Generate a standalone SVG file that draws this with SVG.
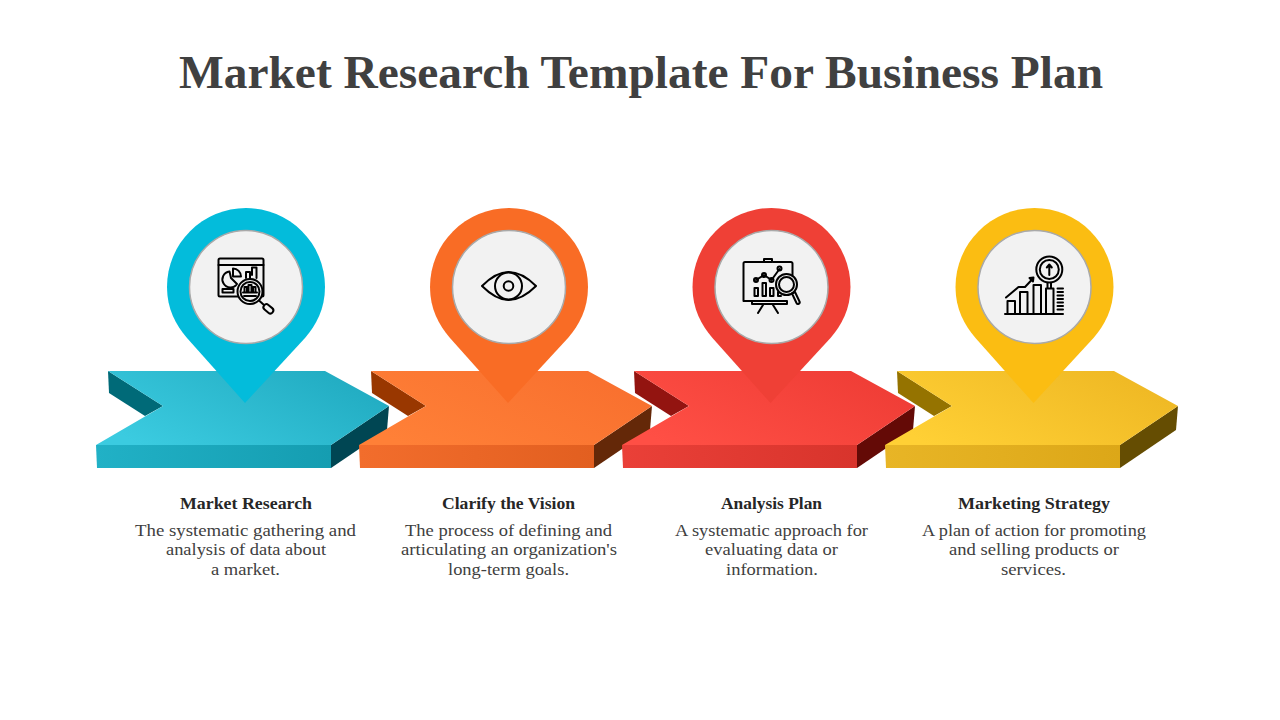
<svg xmlns="http://www.w3.org/2000/svg" xmlns:xlink="http://www.w3.org/1999/xlink" width="1280" height="720" viewBox="0 0 1280 720">
<style>
.t{font-family:"Liberation Serif","DejaVu Serif",serif;text-anchor:middle}
.title{font-size:47px;font-weight:700;fill:#404040}
.h{font-size:17.5px;font-weight:700;fill:#262626}
.b{font-size:17.5px;fill:#404040}
.disc{fill:#f2f2f2;stroke:#a9a9a9;stroke-width:1.5}
.ic{fill:none;stroke:#000;stroke-width:2;stroke-linecap:round;stroke-linejoin:round}
.icw{fill:#f2f2f2;stroke:#000;stroke-width:2;stroke-linejoin:round}
</style>
<defs>
<linearGradient id="gB" x1="0" y1="0.7" x2="1" y2="0.2"><stop offset="0" stop-color="#3bcbe0"/><stop offset="1" stop-color="#20aac0"/></linearGradient>
<linearGradient id="gO" x1="0" y1="0.7" x2="1" y2="0.2"><stop offset="0" stop-color="#ff8037"/><stop offset="1" stop-color="#f86f2e"/></linearGradient>
<linearGradient id="gR" x1="0" y1="0.7" x2="1" y2="0.2"><stop offset="0" stop-color="#ff4f45"/><stop offset="1" stop-color="#ee3c35"/></linearGradient>
<linearGradient id="gY" x1="0" y1="0.7" x2="1" y2="0.2"><stop offset="0" stop-color="#ffd035"/><stop offset="1" stop-color="#eeb723"/></linearGradient>
<linearGradient id="fB" x1="0" y1="0" x2="1" y2="0"><stop offset="0" stop-color="#21b1c6"/><stop offset="1" stop-color="#159db1"/></linearGradient>
<linearGradient id="fO" x1="0" y1="0" x2="1" y2="0"><stop offset="0" stop-color="#f26d2c"/><stop offset="1" stop-color="#e25f20"/></linearGradient>
<linearGradient id="fR" x1="0" y1="0" x2="1" y2="0"><stop offset="0" stop-color="#ea4038"/><stop offset="1" stop-color="#d8342c"/></linearGradient>
<linearGradient id="fY" x1="0" y1="0" x2="1" y2="0"><stop offset="0" stop-color="#e8b526"/><stop offset="1" stop-color="#dca718"/></linearGradient>
<path id="top" d="M108 371H325L389 406L331 445H96L163 406Z"/>
<path id="front" d="M96 445H331V468H97Z"/>
<path id="right" d="M331 445L389 406L387 430L331 468Z"/>
<path id="back" d="M108 371L163 406L145 416L109 393Z"/>
<path id="pin" d="M246 208A79 79 0 0 1 325 287C325 309 316 325 305 338L245 403L187 338C176 325 167 309 167 287A79 79 0 0 1 246 208Z"/>
</defs>
<rect width="1280" height="720" fill="#fff"/>
<text class="t title" x="641" y="88" textLength="924" lengthAdjust="spacingAndGlyphs">Market Research Template For Business Plan</text>

<g id="node-1">
<use xlink:href="#back" fill="#006a78"/><use xlink:href="#front" fill="url(#fB)"/><use xlink:href="#right" fill="#004653"/><use xlink:href="#top" fill="url(#gB)"/>
<use xlink:href="#pin" fill="#03bcdb"/>
<circle class="disc" cx="246" cy="287" r="56.5"/>
<g>
<rect class="ic" x="218.500" y="258.500" width="45" height="38" rx="1.500"/>
<path class="ic" d="M218.500 265H263.500"/>
<path class="ic" d="M233 268.500A8 8 0 0 1 241 276.500H233ZM229.500 271.500A8 8 0 1 0 237 284L231 278Z"/>
<rect class="ic" x="222.500" y="289" width="11" height="3.500"/>
<path class="ic" d="M246 278V272H250V278M252 275V267.500H256.500V278"/>
<circle class="icw" cx="250" cy="291.500" r="12.500"/>
<circle class="ic" cx="250" cy="291.500" r="9.500"/>
<path class="ic" d="M244.500 292V287H247V292M248.500 292V285H251.500V292M253 292V287H255.500V292M243 292.500H257M244 296H256"/>
<path class="ic" d="M259 300.500L264 305"/>
<rect class="ic" x="-5" y="-3" width="11" height="6" rx="3" transform="translate(268 308.500) rotate(40)"/>
</g>
<text class="t h" x="246" y="509" textLength="132" lengthAdjust="spacingAndGlyphs">Market Research</text>
<text class="t b" x="245.500" y="536" textLength="221" lengthAdjust="spacingAndGlyphs">The systematic gathering and</text>
<text class="t b" x="246" y="555" textLength="160" lengthAdjust="spacingAndGlyphs">analysis of data about</text>
<text class="t b" x="245.500" y="575" textLength="69" lengthAdjust="spacingAndGlyphs">a market.</text>
</g>

<g id="node-2">
<g transform="translate(263 0)"><use xlink:href="#back" fill="#993700"/><use xlink:href="#front" fill="url(#fO)"/><use xlink:href="#right" fill="#642808"/><use xlink:href="#top" fill="url(#gO)"/><use xlink:href="#pin" fill="#f96c25"/><circle class="disc" cx="246" cy="287" r="56.500"/></g>
<g>
<path class="ic" d="M482 286C492 276 500 272 508.500 272C517 272 526 276 536 286C526 296 517 300 508.500 300C500 300 492 296 482 286Z"/>
<circle class="ic" cx="508.500" cy="286" r="13.500"/>
<circle class="ic" cx="508.500" cy="286" r="4.800"/>
</g>
<text class="t h" x="508.500" y="509" textLength="133" lengthAdjust="spacingAndGlyphs">Clarify the Vision</text>
<text class="t b" x="508.500" y="536" textLength="207" lengthAdjust="spacingAndGlyphs">The process of defining and</text>
<text class="t b" x="509" y="555" textLength="216" lengthAdjust="spacingAndGlyphs">articulating an organization's</text>
<text class="t b" x="508.500" y="575" textLength="121" lengthAdjust="spacingAndGlyphs">long-term goals.</text>
</g>

<g id="node-3">
<g transform="translate(526 0)"><use xlink:href="#back" fill="#931410"/><use xlink:href="#front" fill="url(#fR)"/><use xlink:href="#right" fill="#640a06"/><use xlink:href="#top" fill="url(#gR)"/></g>
<g transform="translate(525.500 0)"><use xlink:href="#pin" fill="#ef4036"/><circle class="disc" cx="246" cy="287" r="56.500"/></g>
<g>
<path class="ic" d="M764 262H745A1.500 1.500 0 0 0 743.500 263.500V301H752M773 262H791A1.500 1.500 0 0 1 792.500 263.500V276"/>
<path class="ic" d="M764 262V259H772V262ZM752 301H787V304H752ZM763 305L758 313M773 305L778 313"/>
<path class="ic" d="M756 280L764 275L771.500 280L779.500 269"/>
<circle class="ic" cx="756" cy="280" r="2"/><circle class="ic" cx="764" cy="275" r="2"/><circle class="ic" cx="771.500" cy="280" r="2"/><circle class="ic" cx="779.500" cy="268.500" r="2"/>
<rect class="ic" x="754.500" y="288" width="3.500" height="8"/><rect class="ic" x="762.500" y="283" width="3.500" height="13"/><rect class="ic" x="770" y="288" width="3.500" height="8"/><path class="ic" d="M778 292V296H781"/>
<circle class="icw" cx="786.500" cy="284.500" r="10.500"/>
<circle class="ic" cx="786.500" cy="284.500" r="7.500"/>
<path class="ic" d="M792 293.500L795 292L799.500 301.500A1.600 1.600 0 0 1 796.500 303Z"/>
</g>
<text class="t h" x="771.500" y="509" textLength="101" lengthAdjust="spacingAndGlyphs">Analysis Plan</text>
<text class="t b" x="771.500" y="536" textLength="193" lengthAdjust="spacingAndGlyphs">A systematic approach for</text>
<text class="t b" x="771.500" y="555" textLength="133" lengthAdjust="spacingAndGlyphs">evaluating data or</text>
<text class="t b" x="772" y="575" textLength="92" lengthAdjust="spacingAndGlyphs">information.</text>
</g>

<g id="node-4">
<g transform="translate(789 0)"><use xlink:href="#back" fill="#957300"/><use xlink:href="#front" fill="url(#fY)"/><use xlink:href="#right" fill="#654d02"/><use xlink:href="#top" fill="url(#gY)"/></g>
<g transform="translate(788.500 0)"><use xlink:href="#pin" fill="#fbbd12"/><circle class="disc" cx="246" cy="287" r="56.500"/></g>
<g>
<path class="ic" d="M1005 314H1063"/>
<rect class="ic" x="1007.500" y="301" width="7.500" height="13"/>
<rect class="ic" x="1020" y="292" width="7.500" height="22"/>
<rect class="ic" x="1033.500" y="285" width="7.500" height="29"/>
<rect class="ic" x="1046" y="288.500" width="7.500" height="25.500"/>
<path class="ic" d="M1006 297.500L1018.500 287H1025L1033 278.500"/>
<path class="ic" d="M1029.500 278L1033.500 277.500L1033 281.500Z"/>
<circle class="ic" cx="1049.300" cy="269.500" r="13"/>
<circle class="ic" cx="1049.300" cy="269.500" r="9.500"/>
<path class="ic" d="M1049.300 275V265M1046.800 267.500L1049.300 264.500L1051.800 267.500M1047.500 283V288M1051 283V288"/>
<path class="ic" d="M1057.500 288.500H1063M1057.500 292H1063M1057.500 295.500H1063M1057.500 299H1063M1057.500 302.500H1063M1057.500 306H1063M1057.500 309.500H1063"/>
</g>
<text class="t h" x="1034" y="509" textLength="152" lengthAdjust="spacingAndGlyphs">Marketing Strategy</text>
<text class="t b" x="1034" y="536" textLength="224" lengthAdjust="spacingAndGlyphs">A plan of action for promoting</text>
<text class="t b" x="1034" y="555" textLength="170" lengthAdjust="spacingAndGlyphs">and selling products or</text>
<text class="t b" x="1033.500" y="575" textLength="65" lengthAdjust="spacingAndGlyphs">services.</text>
</g>
</svg>
